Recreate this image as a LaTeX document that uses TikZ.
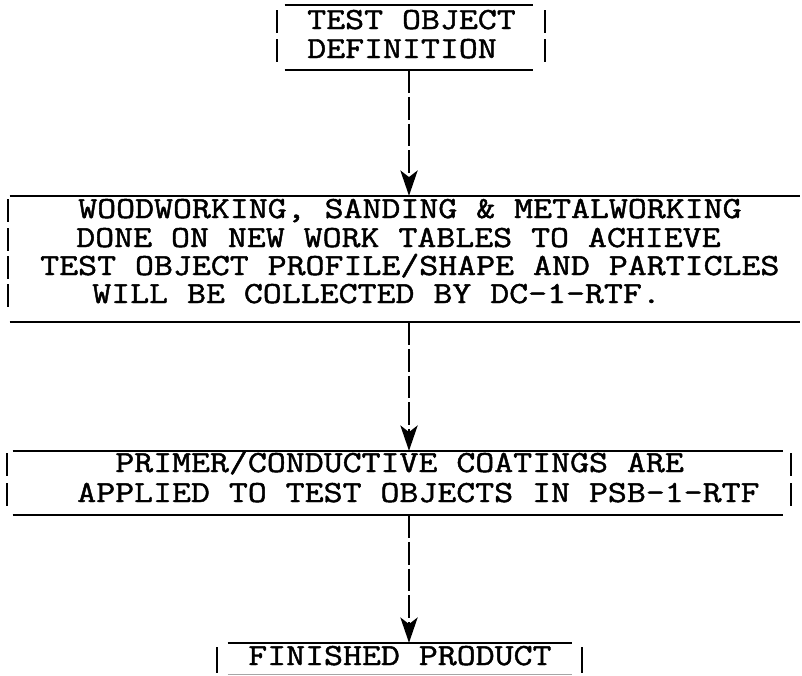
\documentclass[tikz,border=0pt]{standalone}
\usepackage{fontspec}
\setmonofont{Latin Modern Mono}[FakeStretch=1.2, FakeBold=1.5]
\usetikzlibrary{arrows.meta,fit}
\begin{document}
\begin{tikzpicture}[x=0.75pt,y=-0.75pt,
  rule/.style={line width=1.6pt},
  bar/.style={line width=1.3pt},
  txt/.style={anchor=base west, inner sep=0pt, font=\ttfamily\fontsize{23}{27}\selectfont},
  conn/.style={line width=1.3pt, dash pattern=on 17pt off 3pt, -{Stealth[length=19pt,width=13pt,inset=5pt]}},
  frame/.style={inner sep=0pt, draw=none}]
\useasboundingbox (0,0) rectangle (802,675);
\coordinate (col) at (409,0);

% Box 1
\node[frame, fit={(285,5) (533,70)}] (b1) {};
\draw[rule] (b1.north west) -- (b1.north east) (b1.south west) -- (b1.south east);
\node[txt] (b1l1) at (307,29) {TEST OBJECT};
\node[txt] (b1l2) at (307,58) {DEFINITION};
\foreach \b in {29,58} {
  \draw[bar] (277,\b-19) -- (277,\b+4);
  \draw[bar] (545,\b-19) -- (545,\b+4);
}

% Box 2
\node[frame, fit={(10,196) (800,322)}] (b2) {};
\draw[rule] (b2.north west) -- (b2.north east) (b2.south west) -- (b2.south east);
\node[txt] (b2l1) at (78,218) {WOODWORKING, SANDING \& METALWORKING};
\node[txt] (b2l2) at (76,247) {DONE ON NEW WORK TABLES TO ACHIEVE};
\node[txt] (b2l3) at (40,275) {TEST OBJECT PROFILE/SHAPE AND PARTICLES};
\node[txt] (b2l4) at (92,303) {WILL BE COLLECTED BY DC-1-RTF.};
\foreach \b in {218,247,275,303} {
  \draw[bar] (8,\b-19) -- (8,\b+4);
}

% Box 3
\node[frame, fit={(13,451) (783,515)}] (b3) {};
\draw[rule] (b3.north west) -- (b3.north east) (b3.south west) -- (b3.south east);
\node[txt] (b3l1) at (115,472) {PRIMER/CONDUCTIVE COATINGS ARE};
\node[txt] (b3l2) at (77,502) {APPLIED TO TEST OBJECTS IN PSB-1-RTF};
\foreach \b in {472,502} {
  \draw[bar] (7,\b-19) -- (7,\b+4);
  \draw[bar] (791,\b-19) -- (791,\b+4);
}

% Box 4
\node[frame, fit={(228,643) (572,674)}] (b4) {};
\draw[rule] (b4.north west) -- (b4.north east);
\draw[line width=1pt, gray!70] (b4.south west) -- (b4.south east);
\node[txt] (b4l1) at (248,665) {FINISHED PRODUCT};
\draw[bar] (217,647) -- (217,673);
\draw[bar] (582,647) -- (582,673);

% Connectors
\draw[conn] (b1.south -| col) -- (b2.north -| col);
\draw[conn] (b2.south -| col) -- (b3.north -| col);
\draw[conn] (b3.south -| col) -- (b4.north -| col);
\end{tikzpicture}
\end{document}
